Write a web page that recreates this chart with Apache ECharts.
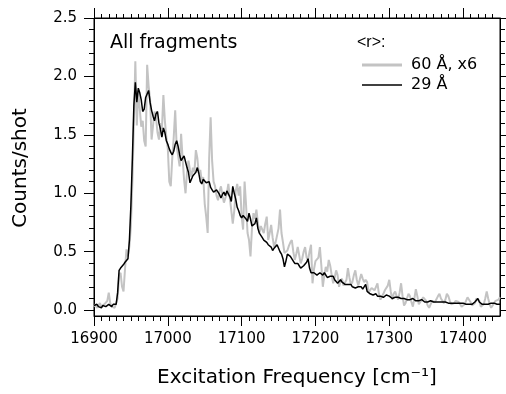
<!DOCTYPE html>
<html><head><meta charset="utf-8">
<script src="https://cdn.jsdelivr.net/npm/echarts@6/dist/echarts.min.js"></script>
<style>html,body{margin:0;padding:0;background:#fff}#c{width:506px;height:394px}</style>
</head><body><div id="c"></div>
<script>
// Sampling grid of the spectra (cm^-1)
const freqStart = 16900, freqStep = 2;

// 60 Å, x6 (grey)
const r60x6 = [
0.03,0.05,0.02,0.04,0.06,0.03,0.02,0.05,0.04,0.08,
0.15,0.06,0.03,0.04,0.02,0.03,0.10,0.30,0.32,0.20,
0.16,0.35,0.52,0.46,0.55,0.72,1.10,1.60,2.13,1.58,
1.88,1.72,1.57,1.62,1.45,1.40,2.10,1.92,1.80,1.46,
1.58,1.70,1.65,1.52,1.46,1.60,1.55,1.84,1.62,1.48,
1.38,1.10,1.06,1.30,1.48,1.71,1.40,1.32,1.23,1.51,
1.30,1.12,1.00,1.18,1.28,1.20,1.14,1.22,1.18,1.37,
1.30,1.17,1.20,1.10,1.14,0.91,0.80,0.66,1.30,1.65,
1.28,1.10,1.06,0.98,0.94,1.02,1.06,0.98,0.92,0.91,
1.00,1.08,0.96,0.95,0.74,0.85,1.02,1.08,0.98,1.06,
0.80,0.69,1.10,0.90,0.66,0.60,0.46,0.70,0.83,0.78,
0.86,0.75,0.66,0.72,0.71,0.66,0.74,0.80,0.60,0.66,
0.73,0.62,0.54,0.58,0.57,0.70,0.86,0.66,0.58,0.49,
0.50,0.51,0.55,0.58,0.60,0.50,0.43,0.48,0.54,0.47,
0.40,0.44,0.50,0.54,0.45,0.43,0.50,0.56,0.23,0.35,
0.42,0.43,0.45,0.54,0.38,0.20,0.30,0.37,0.33,0.43,
0.38,0.30,0.23,0.28,0.34,0.30,0.20,0.25,0.27,0.21,
0.20,0.26,0.36,0.28,0.22,0.24,0.30,0.34,0.26,0.21,
0.26,0.31,0.27,0.24,0.26,0.24,0.15,0.17,0.19,0.18,
0.17,0.20,0.23,0.14,0.09,0.10,0.14,0.17,0.18,0.21,
0.26,0.16,0.09,0.14,0.16,0.12,0.09,0.15,0.23,0.12,
0.04,0.06,0.10,0.14,0.12,0.07,0.03,0.10,0.18,0.12,
0.05,0.06,0.09,0.11,0.12,0.08,0.04,0.02,0.05,0.08,
0.09,0.07,0.08,0.12,0.14,0.10,0.08,0.06,0.09,0.14,
0.12,0.08,0.05,0.04,0.06,0.08,0.09,0.07,0.05,0.03,
0.02,0.05,0.08,0.11,0.10,0.07,0.04,0.03,0.06,0.10,
0.11,0.08,0.03,0.02,0.05,0.10,0.16,0.10,0.05,0.02,
0.03,0.06,0.08,0.07,0.09,0.11
];

// 29 Å (black)
const r29 = [
0.04,0.03,0.05,0.03,0.04,0.02,0.04,0.05,0.03,0.04,
0.05,0.04,0.03,0.05,0.04,0.05,0.15,0.34,0.36,0.37,
0.39,0.41,0.42,0.44,0.60,0.90,1.30,1.75,1.95,1.78,
1.90,1.86,1.80,1.70,1.72,1.82,1.85,1.88,1.78,1.71,
1.66,1.62,1.68,1.70,1.60,1.55,1.48,1.56,1.52,1.45,
1.42,1.38,1.35,1.33,1.36,1.42,1.45,1.40,1.33,1.28,
1.30,1.32,1.27,1.22,1.18,1.09,1.12,1.15,1.14,1.18,
1.22,1.17,1.10,1.08,1.12,1.13,1.09,1.08,1.10,1.05,
1.03,1.01,1.00,1.03,1.04,0.99,0.96,0.99,1.01,0.98,
1.02,1.03,0.97,0.93,1.06,1.00,0.95,0.88,0.85,0.81,
0.79,0.81,0.80,0.78,0.76,0.83,0.78,0.72,0.71,0.74,
0.79,0.70,0.66,0.64,0.62,0.60,0.59,0.58,0.56,0.57,
0.54,0.51,0.53,0.54,0.56,0.55,0.50,0.48,0.44,0.37,
0.42,0.48,0.47,0.46,0.45,0.42,0.40,0.41,0.40,0.38,
0.36,0.36,0.38,0.39,0.41,0.44,0.36,0.32,0.31,0.32,
0.31,0.30,0.31,0.32,0.33,0.30,0.32,0.31,0.28,0.27,
0.29,0.28,0.29,0.26,0.25,0.23,0.24,0.26,0.24,0.23,
0.22,0.21,0.22,0.23,0.22,0.20,0.19,0.19,0.18,0.20,
0.19,0.20,0.18,0.19,0.22,0.16,0.15,0.14,0.14,0.13,
0.13,0.14,0.12,0.13,0.12,0.12,0.11,0.12,0.13,0.13,
0.12,0.11,0.10,0.10,0.11,0.10,0.11,0.11,0.10,0.09,
0.10,0.09,0.09,0.08,0.09,0.09,0.10,0.09,0.08,0.09,
0.08,0.08,0.09,0.08,0.07,0.08,0.07,0.07,0.08,0.07,
0.07,0.08,0.07,0.08,0.07,0.06,0.07,0.06,0.07,0.06,
0.06,0.07,0.06,0.07,0.06,0.05,0.06,0.07,0.06,0.05,
0.06,0.06,0.05,0.06,0.05,0.06,0.05,0.06,0.07,0.08,
0.10,0.07,0.06,0.05,0.06,0.05,0.06,0.05,0.05,0.06,
0.05,0.06,0.05,0.05,0.06,0.05
];

const seriesNames = ['60 Å, x6', '29 Å'];
const xTickLabels = [16900, 17000, 17100, 17200, 17300, 17400];
const yTickLabels = [0, 0.5, 1.0, 1.5, 2.0, 2.5];

// ---- build ----
const xMinor = [];
for (let v = 16910; v < 17450; v += 10) if (v % 100 !== 0) xMinor.push(v);
const yMinor = [];
for (let i = 1; i < 25; i++) if (i % 5 !== 0) yMinor.push(i / 10);

const toPairs = arr => arr.map((v, i) => [freqStart + freqStep * i, v]);

const FONT = 'DejaVu Sans';
const black = '#000';
const GRID = { left: 94, right: 6, top: 18, bottom: 78, containLabel: false };

function xAx(g, pos, ticks, len, line, labels) {
  return {
    type: 'value', gridIndex: g, position: pos, min: 16900, max: 17450,
    axisLine: { show: line, onZero: false, lineStyle: { color: black, width: 1 } },
    axisTick: { show: true, inside: false, length: len, customValues: ticks, lineStyle: { color: black, width: 1 } },
    axisLabel: labels ? { show: true, customValues: ticks, formatter: v => String(v), color: black, fontFamily: FONT, fontSize: 15, margin: 16 } : { show: false },
    splitLine: { show: false }, minorTick: { show: false }
  };
}
function yAx(g, pos, ticks, len, line, labels) {
  return {
    type: 'value', gridIndex: g, position: pos, min: -0.05, max: 2.5,
    axisLine: { show: line, onZero: false, lineStyle: { color: black, width: 1 } },
    axisTick: { show: true, inside: false, length: len, customValues: ticks, lineStyle: { color: black, width: 1 } },
    axisLabel: labels ? { show: true, customValues: ticks, formatter: v => v.toFixed(1), color: black, fontFamily: FONT, fontSize: 15, margin: 17 } : { show: false },
    splitLine: { show: false }, minorTick: { show: false }
  };
}

const chart = echarts.init(document.getElementById('c'), null, { renderer: 'canvas' });
chart.setOption({
  backgroundColor: '#fff',
  animation: false,
  grid: [
    Object.assign({ show: true, borderColor: black, borderWidth: 1, backgroundColor: 'transparent' }, GRID),
    Object.assign({}, GRID)
  ],
  xAxis: [
    xAx(0, 'bottom', xTickLabels, 10, true, true),
    xAx(0, 'top', xTickLabels, 10, true, false),
    xAx(1, 'bottom', xMinor, 5, false, false),
    xAx(1, 'top', xMinor, 4, false, false)
  ],
  yAxis: [
    yAx(0, 'left', yTickLabels, 10, true, true),
    yAx(0, 'right', yTickLabels, 8, true, false),
    yAx(1, 'left', yMinor, 5, false, false),
    yAx(1, 'right', yMinor, 5, false, false)
  ],
  legend: {
    show: true, orient: 'vertical', left: 357, top: 52,
    itemWidth: 40, itemHeight: 20, itemGap: 4,
    symbolKeepAspect: true,
    itemStyle: { borderWidth: 0 },
    data: [
      { name: seriesNames[0], icon: 'path://M0,0H40V3H0Z' },
      { name: seriesNames[1], icon: 'path://M0,0H40V1.6H0Z' }
    ],
    textStyle: { color: black, fontFamily: FONT, fontSize: 16, padding: [0, 0, 0, 4] }
  },
  graphic: [
    { type: 'text', x: 110, y: 43.5, style: { text: 'All fragments', font: '19px "DejaVu Sans"', fill: black, align: 'left', verticalAlign: 'middle' } },
    { type: 'text', x: 357, y: 43, style: { text: '<r>:', font: '16px "Liberation Sans"', fill: black, align: 'left', verticalAlign: 'middle' } },
    { type: 'text', x: 297, y: 378, style: { text: 'Excitation Frequency [cm⁻¹]', font: '20px "DejaVu Sans"', fill: black, align: 'center', verticalAlign: 'middle' } },
    { type: 'text', x: 20.5, y: 168, rotation: Math.PI / 2, style: { text: 'Counts/shot', font: '20px "DejaVu Sans"', fill: black, align: 'center', verticalAlign: 'middle' } }
  ],
  series: [
    { name: seriesNames[0], type: 'line', xAxisIndex: 0, yAxisIndex: 0, data: toPairs(r60x6), symbol: 'none', showSymbol: false,
      lineStyle: { color: '#c3c3c3', width: 2 }, itemStyle: { color: '#c3c3c3' }, clip: true, z: 2 },
    { name: seriesNames[1], type: 'line', xAxisIndex: 0, yAxisIndex: 0, data: toPairs(r29), symbol: 'none', showSymbol: false,
      lineStyle: { color: black, width: 1.5 }, itemStyle: { color: black }, clip: true, z: 3 }
  ]
});
</script>
</body></html>
